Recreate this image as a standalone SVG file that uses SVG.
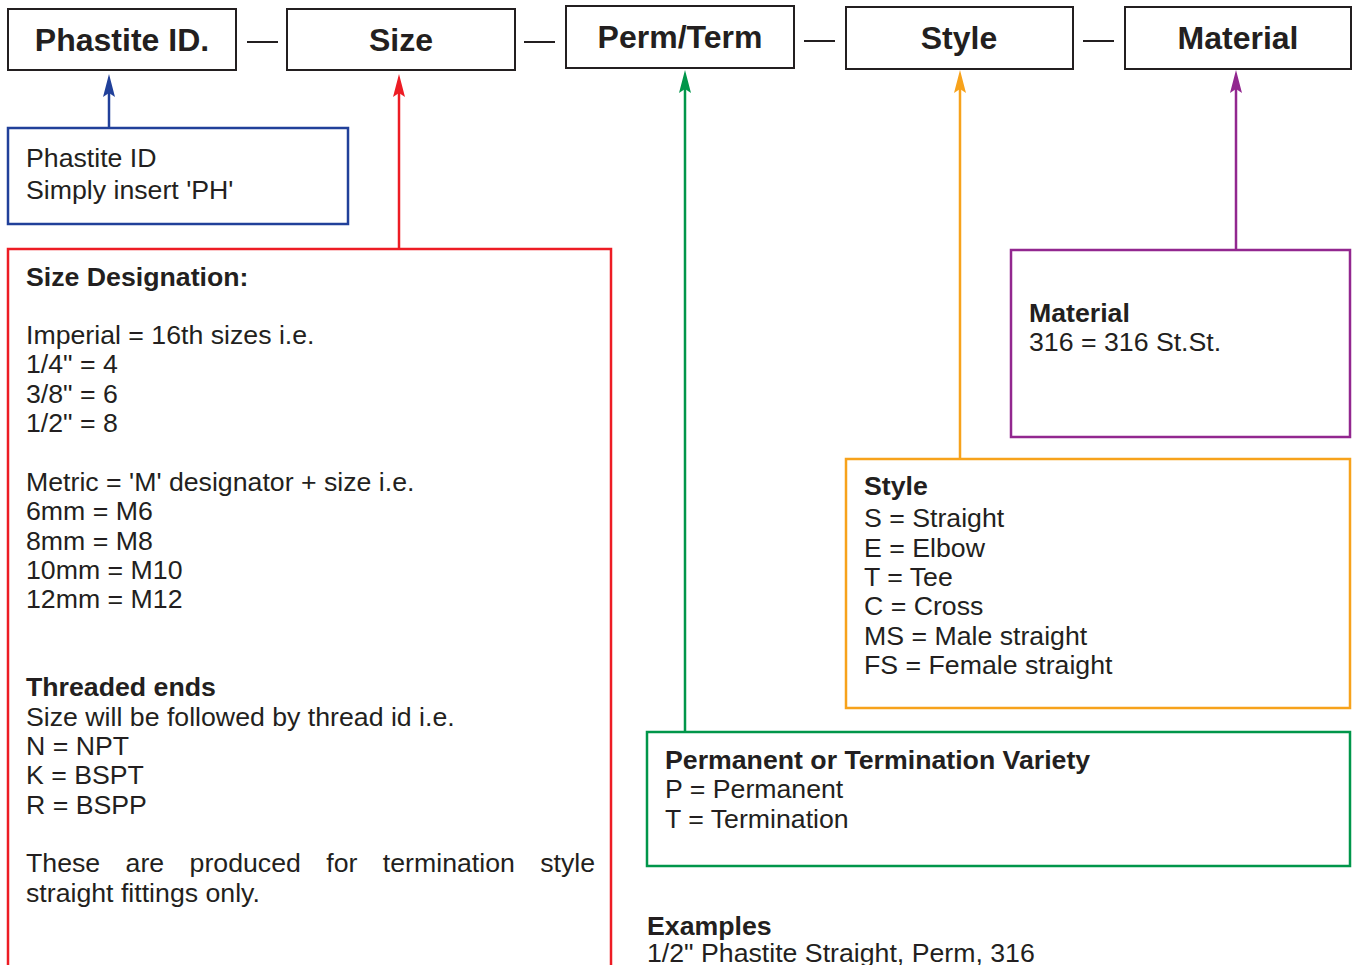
<svg xmlns="http://www.w3.org/2000/svg" width="1352" height="965" viewBox="0 0 1352 965">
<defs>
<style>
text{font-family:"Liberation Sans",Arial,Helvetica,sans-serif;fill:#231f20}
.h{font-size:32px;font-weight:bold;text-anchor:middle}
.t{font-size:26.7px}
.b{font-size:26.7px;font-weight:bold}
.hb{fill:#fff;stroke:#231f20;stroke-width:2}
.dash{stroke:#231f20;stroke-width:2}
.box{fill:#fff;stroke-width:2.5}
</style>
</defs>
<rect width="1352" height="965" fill="#fff"/>

<g id="header">
<g id="h-phastite"><rect class="hb" x="8" y="9" width="228" height="61"/><text class="h" x="122" y="51">Phastite ID.</text></g>
<g id="h-size"><rect class="hb" x="287" y="9" width="228" height="61"/><text class="h" x="401" y="51">Size</text></g>
<g id="h-perm"><rect class="hb" x="566" y="6" width="228" height="62"/><text class="h" x="680" y="48">Perm/Term</text></g>
<g id="h-style"><rect class="hb" x="846" y="7" width="227" height="62"/><text class="h" x="959" y="49">Style</text></g>
<g id="h-material"><rect class="hb" x="1125" y="7" width="226" height="62"/><text class="h" x="1238" y="49">Material</text></g>
<line class="dash" x1="247" y1="42" x2="278" y2="42"/>
<line class="dash" x1="524" y1="42" x2="555" y2="42"/>
<line class="dash" x1="804" y1="41" x2="835" y2="41"/>
<line class="dash" x1="1083" y1="41" x2="1114" y2="41"/>
</g>

<g id="connectors">
<line x1="109" y1="128" x2="109" y2="92" stroke="#21409a" stroke-width="2.5"/>
<path d="M109,74 L115,97 L109,93 L103,97 Z" fill="#21409a"/>
<line x1="399" y1="249" x2="399" y2="92" stroke="#ed1c24" stroke-width="2.5"/>
<path d="M399,74 L405,97 L399,93 L393,97 Z" fill="#ed1c24"/>
<line x1="685" y1="732" x2="685" y2="88" stroke="#00964a" stroke-width="2.5"/>
<path d="M685,70 L691,93 L685,89 L679,93 Z" fill="#00964a"/>
<line x1="960" y1="459" x2="960" y2="88" stroke="#f7a21b" stroke-width="2.5"/>
<path d="M960,70 L966,93 L960,89 L954,93 Z" fill="#f7a21b"/>
<line x1="1236" y1="250" x2="1236" y2="88" stroke="#92278f" stroke-width="2.5"/>
<path d="M1236,70 L1242,93 L1236,89 L1230,93 Z" fill="#92278f"/>
</g>

<g id="phastite-id">
<rect class="box" x="8" y="128" width="340" height="96" stroke="#21409a"/>
<text class="t" x="26" y="167">Phastite ID</text>
<text class="t" x="26" y="199">Simply insert 'PH'</text>
</g>

<g id="size-designation">
<rect class="box" x="8" y="249" width="603" height="730" stroke="#ed1c24"/>
<text class="b" x="26" y="286">Size Designation:</text>
<text class="t" x="26" y="344">Imperial = 16th sizes i.e.</text>
<text class="t" x="26" y="373">1/4" = 4</text>
<text class="t" x="26" y="403">3/8" = 6</text>
<text class="t" x="26" y="432">1/2" = 8</text>
<text class="t" x="26" y="491">Metric = 'M' designator + size i.e.</text>
<text class="t" x="26" y="520">6mm = M6</text>
<text class="t" x="26" y="550">8mm = M8</text>
<text class="t" x="26" y="579">10mm = M10</text>
<text class="t" x="26" y="608">12mm = M12</text>
<text class="b" x="26" y="696">Threaded ends</text>
<text class="t" x="26" y="726">Size will be followed by thread id i.e.</text>
<text class="t" x="26" y="755">N = NPT</text>
<text class="t" x="26" y="784">K = BSPT</text>
<text class="t" x="26" y="814">R = BSPP</text>
<text class="t" x="26" y="872" word-spacing="18">These are produced for termination style</text>
<text class="t" x="26" y="902">straight fittings only.</text>
</g>

<g id="material">
<rect class="box" x="1011" y="250" width="339" height="187" stroke="#92278f"/>
<text class="b" x="1029" y="322">Material</text>
<text class="t" x="1029" y="351">316 = 316 St.St.</text>
</g>

<g id="style">
<rect class="box" x="846" y="459" width="504" height="249" stroke="#f7a21b"/>
<text class="b" x="864" y="495">Style</text>
<text class="t" x="864" y="527">S = Straight</text>
<text class="t" x="864" y="557">E = Elbow</text>
<text class="t" x="864" y="586">T = Tee</text>
<text class="t" x="864" y="615">C = Cross</text>
<text class="t" x="864" y="645">MS = Male straight</text>
<text class="t" x="864" y="674">FS = Female straight</text>
</g>

<g id="perm-term">
<rect class="box" x="647" y="732" width="703" height="134" stroke="#00964a"/>
<text class="b" x="665" y="769">Permanent or Termination Variety</text>
<text class="t" x="665" y="798">P = Permanent</text>
<text class="t" x="665" y="828">T = Termination</text>
</g>

<g id="examples">
<text class="b" x="647" y="935">Examples</text>
<text class="t" x="647" y="962">1/2" Phastite Straight, Perm, 316</text>
</g>
</svg>
